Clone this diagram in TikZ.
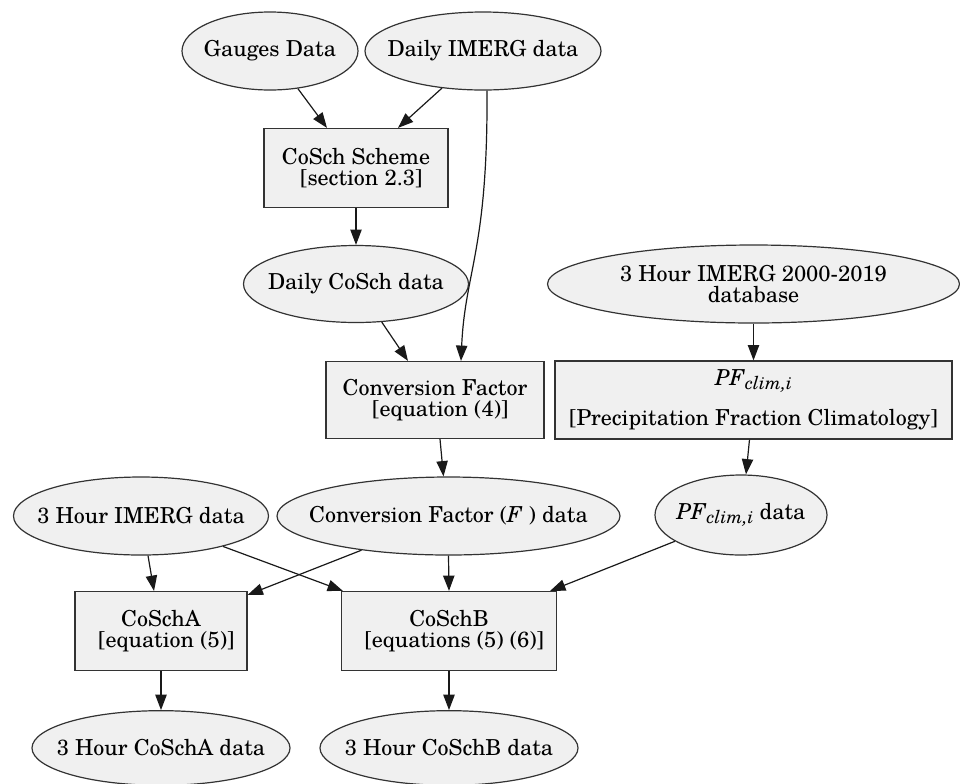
\documentclass[tikz,border=0pt]{standalone}
\usepackage{fontspec}
\setmainfont{texgyreschola}[Extension=.otf, UprightFont=*-regular, ItalicFont=*-italic, BoldFont=*-bold]
\usetikzlibrary{shapes.geometric,arrows.meta,calc}
\definecolor{nodefill}{HTML}{F0F0F0}
\definecolor{nodeline}{HTML}{333333}
\newcommand\pfclim{\textit{PF}\raisebox{-0.35ex}{\fontsize{13.5}{13.5}\selectfont\itshape clim,i}}
\newcommand\lead{\hspace*{8pt}}
\newcommand\zw[1]{\makebox[0pt][c]{#1}}
\tikzset{
  base/.style={draw=nodeline, fill=nodefill, line width=0.9pt, inner sep=0pt, align=center,
    font=\fontsize{16.5}{16}\selectfont},
  oval/.style={base, ellipse},
  boxnode/.style={base, rectangle},
  conn/.style={draw=black!90, line width=0.9pt, -{Triangle[length=11.5pt,width=8.5pt]}}
}
\begin{document}
\begin{tikzpicture}[x=0.75pt,y=-0.75pt]
\useasboundingbox (0,0) rectangle (960,783);
% nodes
\node[oval, minimum width=132pt, minimum height=58.5pt] (gauges) at (270,51) {\zw{Gauges Data}};
\node[oval, minimum width=177pt, minimum height=58.5pt] (dimerg) at (483,51) {\zw{Daily IMERG data}};
\node[boxnode, minimum width=138pt, minimum height=59.25pt] (cosch) at (356,168) {CoSch Scheme\\ \lead{[section 2.3]}};
\node[oval, minimum width=168.75pt, minimum height=57.75pt] (dcosch) at (356,284) {\zw{Daily CoSch data}};
\node[oval, minimum width=309pt, minimum height=58.5pt] (db) at (753.5,284) {\zw{3 Hour IMERG 2000-2019}\\ \zw{database}};
\node[boxnode, minimum width=163.5pt, minimum height=57.75pt] (conv) at (435,400) {Conversion Factor\\ \lead{[equation (4)]}};
\node[boxnode, minimum width=297.75pt, minimum height=58.5pt] (pf) at (753.5,400) {\pfclim\\[12pt] {[Precipitation Fraction Climatology]}};
\node[oval, minimum width=191.25pt, minimum height=58.5pt] (imerg3) at (141,516) {\zw{3 Hour IMERG data}};
\node[oval, minimum width=257.25pt, minimum height=58.5pt] (fdata) at (448.5,516) {\zw{Conversion Factor (\textit{F} ) data}};
\node[oval, minimum width=129pt, minimum height=60pt] (pfdata) at (741,515) {\zw{\pfclim{} data}};
\node[boxnode, minimum width=129pt, minimum height=59.25pt] (coscha) at (161,631) {CoSchA\\ \lead{[equation (5)]}};
\node[boxnode, minimum width=161.25pt, minimum height=59.25pt] (coschb) at (449,631) {CoSchB\\ \lead{[equations (5) (6)]}};
\node[oval, minimum width=193.5pt, minimum height=56pt] (outa) at (161,748) {\zw{3 Hour CoSchA data}};
\node[oval, minimum width=193.5pt, minimum height=56pt] (outb) at (449,748) {\zw{3 Hour CoSchB data}};
% connectors
\draw[conn] (gauges) -- ($(cosch.north)+(-29,0)$);
\draw[conn] (dimerg) -- ($(cosch.north)+(42,0)$);
\draw[conn] ($(dimerg.south)+(4,0)$) .. controls ($(dimerg.south)+(5,160)$) and ($(conv.north)+(30,-90)$) .. ($(conv.north)+(26,0)$);
\draw[conn] (cosch.south) -- (dcosch.north);
\draw[conn] (dcosch) -- ($(conv.north)+(-27,0)$);
\draw[conn] (db.south) -- (pf.north);
\draw[conn] ($(conv.south)+(5,0)$) -- ($(fdata.north)+(-5,0)$);
\draw[conn] ($(pf.south)+(-4,0)$) -- ($(pfdata.north)+(5,0)$);
\draw[conn] ($(imerg3.south)+(7,0)$) -- ($(coscha.north)+(-7,0)$);
\draw[conn] (imerg3) -- ($(coschb.north west)+(2,0)$);
\draw[conn] (fdata) -- ($(coscha.north east)+(0,4)$);
\draw[conn] (fdata.south) -- (coschb.north);
\draw[conn] (pfdata) -- ($(coschb.north east)+(-7,0)$);
\draw[conn] (coscha.south) -- (outa.north);
\draw[conn] (coschb.south) -- (outb.north);
\end{tikzpicture}
\end{document}
